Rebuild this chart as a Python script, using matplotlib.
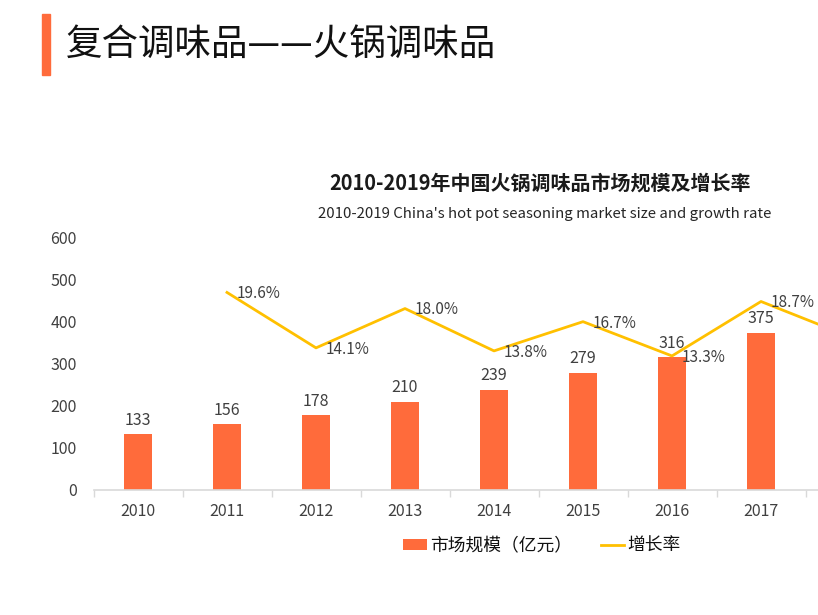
import matplotlib
matplotlib.use("Agg")
import matplotlib.pyplot as plt
from matplotlib.patches import Rectangle
from matplotlib.ticker import FixedLocator

plt.rcParams['font.family'] = ['Noto Sans CJK SC', 'DejaVu Sans']

years = ["2010", "2011", "2012", "2013", "2014", "2015", "2016", "2017", "2018", "2019"]
market_size = [133, 156, 178, 210, 239, 279, 316, 375, 432, 497]
growth = [None, 19.6, 14.1, 18.0, 13.8, 16.7, 13.3, 18.7, 15.2, 15.0]
y_ticks = [0, 100, 200, 300, 400, 500, 600]

bar_color = "#FF6B3B"
line_color = "#FFC000"
text_color = "#404040"

fig = plt.figure(figsize=(8.18, 6.15), dpi=100)

# slide header
fig.patches.append(Rectangle((42 / 818, 1 - 75 / 615), 8 / 818, 61 / 615,
                             transform=fig.transFigure, color=bar_color))
fig.text(66 / 818, 1 - 45 / 615, "复合调味品——火锅调味品", fontsize=26.3,
         fontweight="medium", va="center", ha="left", color="#111111")

fig.text(540 / 818, 1 - 183 / 615, "2010-2019年中国火锅调味品市场规模及增长率",
         fontsize=14.4, fontweight="bold", ha="center", va="center", color="#1a1a1a")
fig.text(545 / 818, 1 - 214 / 615, "2010-2019 China's hot pot seasoning market size and growth rate",
         fontsize=10.8, ha="center", va="center", color="#262626")

# axes deliberately extend past the right edge (cropped screenshot)
ax = fig.add_axes([93.5 / 818, 125 / 615, 890 / 818, 252 / 615])
x = list(range(len(years)))
bars = ax.bar(x, market_size, width=0.31, color=bar_color, label="市场规模（亿元）", zorder=2)
ax.bar_label(bars, labels=[str(v) for v in market_size], padding=4, fontsize=11.5, color=text_color)

ax.set_xlim(-0.5, len(years) - 0.5)
ax.set_ylim(0, 600)
ax.set_yticks(y_ticks)
ax.set_xticks(x)
ax.set_xticklabels(years, fontsize=11.5, color=text_color)
ax.tick_params(axis="y", length=0, labelsize=11.5, labelcolor=text_color, pad=12)
ax.tick_params(axis="x", which="major", length=0, pad=9)
ax.xaxis.set_minor_locator(FixedLocator([i + 0.5 for i in range(-1, len(years))]))
ax.tick_params(axis="x", which="minor", length=5, color="#d9d9d9", width=1)
for s in ["top", "right", "left"]:
    ax.spines[s].set_visible(False)
ax.spines["bottom"].set_color("#d9d9d9")
ax.spines["bottom"].set_linewidth(1.2)

ax2 = ax.twinx()
gx = [i for i, g in zip(x, growth) if g is not None]
gy = [g for g in growth if g is not None]
ax2.plot(gx, gy, color=line_color, linewidth=2, label="增长率", zorder=3)
for xi, g in zip(gx, gy):
    ax2.annotate(f"{g:.1f}%", (xi, g), xytext=(7, -1), textcoords="offset points",
                 ha="left", va="center", fontsize=11, color=text_color)
ax2.set_ylim(0, 25)
ax2.set_yticks([])
for s in ax2.spines.values():
    s.set_visible(False)

h1, l1 = ax.get_legend_handles_labels()
h2, l2 = ax2.get_legend_handles_labels()
fig.legend(h1 + h2, l1 + l2, loc="center", bbox_to_anchor=(542 / 818, 1 - 546 / 615),
           ncol=2, frameon=False, fontsize=12.8, handlelength=1.3, handleheight=0.6,
           columnspacing=1.6, handletextpad=0.2, labelcolor="#111111")

fig.savefig("out.png", dpi=100)
